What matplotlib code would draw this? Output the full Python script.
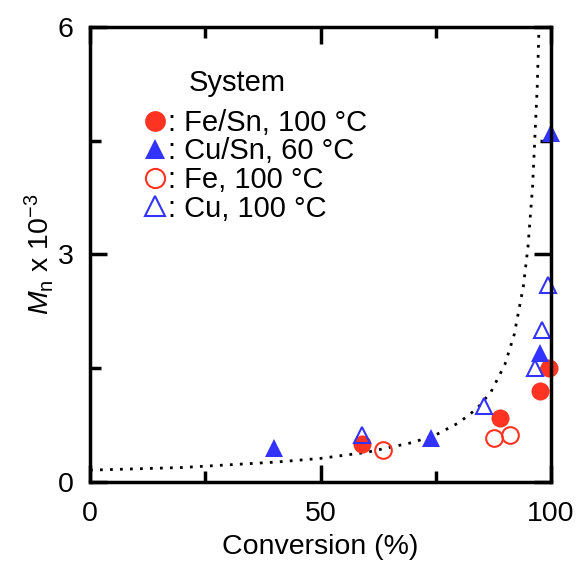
import numpy as np
import matplotlib
matplotlib.use("Agg")
import matplotlib.pyplot as plt

plt.rcParams['font.family'] = ['Liberation Sans', 'DejaVu Sans']
plt.rcParams['mathtext.fontset'] = 'custom'
plt.rcParams['mathtext.rm'] = 'Liberation Sans'
plt.rcParams['mathtext.it'] = 'Liberation Sans:italic'

# data (conversion %, Mn x 10^-3)
fesn_x = [59, 89, 97.5, 99.5]
fesn_y = [0.5, 0.84, 1.2, 1.5]
cusn_x = [40, 74, 97.5, 100]
cusn_y = [0.45, 0.58, 1.7, 4.6]
fe_x = [63.5, 87.7, 91]
fe_y = [0.42, 0.58, 0.62]
cu_x = [59, 85.5, 96.5, 98, 99.3]
cu_y = [0.62, 1.0, 1.5, 2.0, 2.6]

# dotted theory curve
theo_x = [0, 20, 40, 50, 60, 70, 75, 80, 84, 87, 90, 92, 94, 95, 96, 97, 97.4]
theo_y = [0.155, 0.19, 0.26, 0.31, 0.39, 0.52, 0.62, 0.78, 0.97, 1.19, 1.55,
          1.94, 2.58, 3.1, 3.9, 5.2, 6.0]

red = '#ff3322'
blue = '#3333ff'

fig = plt.figure(figsize=(5.77, 5.61), dpi=100)
ax = fig.add_axes([0.156, 0.141, 0.799, 0.811])

ax.plot(theo_x, theo_y, color='black', lw=2, ls=(0, (1, 2.6)))

ms = 13
ax.plot(fesn_x, fesn_y, 'o', color=red, ms=ms, mew=0, clip_on=False,
        label=': Fe/Sn, 100 °C')
ax.plot(cusn_x, cusn_y, '^', color=blue, ms=ms, mew=0, clip_on=False,
        label=': Cu/Sn, 60 °C')
ax.plot(fe_x, fe_y, 'o', mfc='none', mec=red, ms=ms - 1, mew=1.5,
        clip_on=False, label=': Fe, 100 °C')
ax.plot(cu_x, cu_y, '^', mfc='none', mec=blue, ms=ms - 1, mew=1.5,
        clip_on=False, label=': Cu, 100 °C')

ax.set_xlim(0, 100)
ax.set_ylim(0, 6)
ax.set_xticks([0, 50, 100])
ax.set_xticks([25, 75], minor=True)
ax.set_yticks([0, 3, 6])
ax.set_yticks([1.5, 4.5], minor=True)
ax.tick_params(which='both', direction='in', top=True, right=True,
               width=2.5, labelsize=20.5)
ax.tick_params(which='major', length=12)
ax.tick_params(which='minor', length=8)
ax.tick_params(axis='x', pad=14)
ax.tick_params(axis='y', pad=12)
for s in ax.spines.values():
    s.set_linewidth(2.5)

ax.set_xlabel('Conversion (%)', fontsize=20.5, labelpad=5)
ax.set_ylabel(r'$M_{\mathrm{n}}$ x 10$^{-3}$', fontsize=20.5, labelpad=1)

leg = ax.legend(loc='upper left', bbox_to_anchor=(0.115, 0.82), frameon=False,
                fontsize=21, handlelength=0.85, handletextpad=0.0,
                labelspacing=0.02, borderpad=0, borderaxespad=0,
                markerscale=1.15)
ax.text(0.319, 0.877, 'System', transform=ax.transAxes, fontsize=21,
        ha='center', va='center')

fig.savefig('out.png', dpi=100)
